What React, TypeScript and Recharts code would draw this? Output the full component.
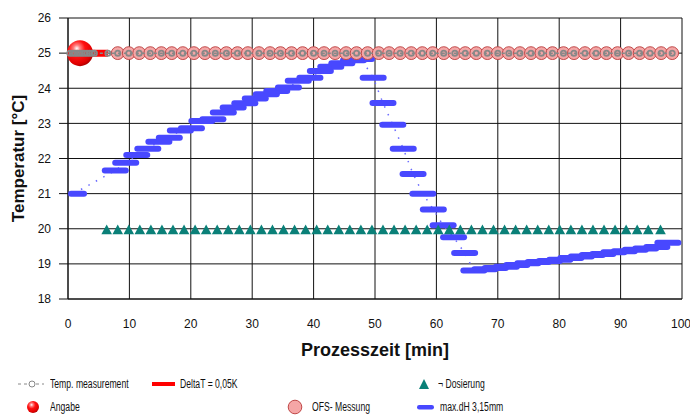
import React from "react";
import { CartesianGrid, Scatter, ScatterChart, XAxis, YAxis } from "recharts";

const xTicks = [0, 10, 20, 30, 40, 50, 60, 70, 80, 90, 100];
const yTicks = [18, 19, 20, 21, 22, 23, 24, 25, 26];

// max.dH 3,15mm – time [min] / temperature [°C]
const dhTime = [
  0.9, 7.7, 9.4, 11.2, 13.0, 14.8, 16.5, 18.3, 20.1, 21.8, 23.6, 25.3, 26.9, 28.8, 30.5, 32.3, 34.0, 35.9,
  37.5, 39.4, 41.1, 42.8, 44.6, 46.5, 47.8, 49.7, 51.3, 52.9, 54.6, 56.2, 57.8, 59.5, 61.1, 62.8, 64.6,
  66.1, 67.9, 69.6, 71.4, 73.1, 74.9, 76.6, 78.4, 80.1, 81.9, 83.6, 85.4, 87.1, 88.9, 90.6, 92.4, 94.1,
  95.9, 97.7
];
const dhTemp = [
  21.0, 21.66, 21.88, 22.1, 22.28, 22.48, 22.59, 22.8, 22.86, 23.07, 23.12, 23.31, 23.45, 23.57, 23.71,
  23.83, 23.92, 24.02, 24.21, 24.3, 24.49, 24.61, 24.71, 24.8, 24.83, 24.3, 23.58, 22.96, 22.28, 21.56,
  21.0, 20.55, 20.1, 19.76, 19.31, 18.81, 18.85, 18.88, 18.92, 18.97, 19.02, 19.05, 19.08, 19.12, 19.17,
  19.21, 19.25, 19.28, 19.33, 19.36, 19.4, 19.44, 19.48, 19.6
];

// ¬ Dosierung
const dosTime = [
  6.3, 8.1, 9.9, 11.7, 13.5, 15.3, 17.1, 18.9, 20.7, 22.5, 24.3, 26.1, 27.9, 29.7, 31.5, 33.3, 35.1,
  36.9, 38.7, 40.5, 42.3, 44.1, 45.9, 47.7, 49.5, 51.3, 53.1, 54.9, 56.7, 58.5, 60.3, 62.1, 63.9, 65.7,
  67.5, 69.3, 71.1, 72.9, 74.7, 76.5, 78.3, 80.1, 81.9, 83.7, 85.5, 87.3, 89.1, 90.9, 92.7, 94.5, 96.5
];
const dosLevel = 20;

// OFS- Messung
const ofsTime = [
  8.1, 9.9, 11.6, 13.4, 15.2, 16.9, 18.7, 20.5, 22.3, 24.0, 25.8, 27.6, 29.3, 31.1, 32.9, 34.6, 36.4,
  38.2, 40.0, 41.7, 43.5, 45.3, 47.0, 48.8, 50.6, 52.3, 54.1, 55.9, 57.7, 59.4, 61.2, 63.0, 64.7, 66.5,
  68.3, 70.0, 71.8, 73.6, 75.4, 77.1, 78.9, 80.7, 82.4, 84.2, 86.0, 87.7, 89.5, 91.3, 93.1, 94.8, 96.6,
  98.4
];
const ofsLevel = 25;

// Temp. measurement
const tempTime = [
  0.3, 0.7, 1.1, 1.5, 1.9, 2.3, 2.7, 3.1, 3.5, 3.9, 4.3, 6.5, 8.1, 9.9, 11.6, 13.4, 15.2, 16.9, 18.7,
  20.5, 22.3, 24.0, 25.8, 27.6, 29.3, 31.1, 32.9, 34.6, 36.4, 38.2, 40.0, 41.7, 43.5, 45.3, 47.0, 48.8,
  50.6, 52.3, 54.1, 55.9, 57.7, 59.4, 61.2, 63.0, 64.7, 66.5, 68.3, 70.0, 71.8, 73.6, 75.4, 77.1, 78.9,
  80.7, 82.4, 84.2, 86.0, 87.7, 89.5, 91.3, 93.1, 94.8, 96.6, 98.4
];
const tempLevel = 25;

// DeltaT = 0,05K and Angabe
const deltaTime = [0, 6.5];
const deltaLevel = 25;
const angabeTime = [1.95];
const angabeLevel = 25;

const dhData = dhTime.map((x, i) => ({ x, y: dhTemp[i] }));
const dosData = dosTime.map((x) => ({ x, y: dosLevel }));
const ofsData = ofsTime.map((x) => ({ x, y: ofsLevel }));
const tempData = tempTime.map((x) => ({ x, y: tempLevel }));
const deltaData = deltaTime.map((x) => ({ x, y: deltaLevel }));
const angabeData = angabeTime.map((x) => ({ x, y: angabeLevel }));

const PLOT_LEFT = 68;
const BLUE = "#4848ff";
const TEAL = "#0a8078";
const PINK = "#f5a6a6";
const PINK_EDGE = "#c04848";
const GRAY = "#888888";
const GRID = "#111111";
const font = "'Liberation Sans', Arial, sans-serif";

const BarMark = (p: any) => {
  const left = Math.max(p.cx - 13.5, PLOT_LEFT);
  const right = p.cx + 13.5;
  return <rect x={left} y={p.cy - 3} width={right - left} height={6} rx={3} fill={BLUE} />;
};

const TriMark = (p: any) => (
  <polygon
    points={`${p.cx - 5.3},${p.cy + 5.5} ${p.cx + 5.3},${p.cy + 5.5} ${p.cx},${p.cy - 4.2}`}
    fill={TEAL}
  />
);

const OfsMark = (p: any) => (
  <circle cx={p.cx} cy={p.cy} r={6.4} fill={PINK} stroke={PINK_EDGE} strokeWidth={1} />
);

const TempMark = (p: any) => (
  <circle cx={p.cx} cy={p.cy} r={2.6} fill="none" stroke={GRAY} strokeWidth={1.8} />
);

const NoMark = () => <g />;

const Sphere = ({ cx, cy, r, id }: { cx: number; cy: number; r: number; id: string }) => (
  <g>
    <defs>
      <radialGradient id={id} cx="0.38" cy="0.32" r="0.7">
        <stop offset="0%" stopColor="#ffffff" />
        <stop offset="18%" stopColor="#ff8080" />
        <stop offset="45%" stopColor="#ff1010" />
        <stop offset="85%" stopColor="#e00000" />
        <stop offset="100%" stopColor="#b00000" />
      </radialGradient>
    </defs>
    <circle cx={cx} cy={cy} r={r} fill={`url(#${id})`} />
  </g>
);

const AngabeMark = (p: any) => <Sphere cx={p.cx} cy={p.cy} r={13} id="angabeSphere" />;

const tickStyle = { fill: "#111", fontSize: 12, fontFamily: font };

function LegendItem({ x, y, icon, text }: { x: number; y: number; icon: React.ReactNode; text: string }) {
  return (
    <div style={{ position: "absolute", left: x, top: y - 8, height: 16, display: "flex", alignItems: "center" }}>
      {icon}
      <span
        style={{
          fontFamily: font,
          fontSize: 12.5,
          color: "#111",
          whiteSpace: "nowrap",
          display: "inline-block",
          transform: "scaleX(0.69)",
          transformOrigin: "left center"
        }}
      >
        {text}
      </span>
    </div>
  );
}

export default function App() {
  return (
    <div style={{ position: "relative", width: 690, height: 415, background: "#fff" }}>
      <style>{"body{margin:0}"}</style>
      <ScatterChart width={690} height={415} margin={{ top: 18, right: 8, bottom: 56, left: 0 }}>
        <CartesianGrid stroke={GRID} strokeWidth={1} />
        <XAxis
          type="number"
          dataKey="x"
          domain={[0, 100]}
          ticks={xTicks}
          tickLine={false}
          tickMargin={14}
          height={60}
          axisLine={{ stroke: GRID }}
          tick={tickStyle}
          label={({ viewBox }: any) => (
            <text
              x={viewBox.x + viewBox.width / 2}
              y={viewBox.y + 57}
              textAnchor="middle"
              fontFamily={font}
              fontSize={18}
              fontWeight="bold"
              fill="#111"
            >
              Prozesszeit [min]
            </text>
          )}
        />
        <YAxis
          type="number"
          dataKey="y"
          domain={[18, 26]}
          ticks={yTicks}
          width={68}
          tickSize={9}
          tickMargin={8}
          axisLine={{ stroke: GRID }}
          tickLine={{ stroke: GRID }}
          tick={tickStyle}
          label={({ viewBox }: any) => (
            <text
              x={24}
              y={viewBox.y + viewBox.height / 2}
              transform={`rotate(-90 24 ${viewBox.y + viewBox.height / 2})`}
              textAnchor="middle"
              fontFamily={font}
              fontSize={17}
              fontWeight="bold"
              fill="#111"
            >
              Temperatur [°C]
            </text>
          )}
        />
        <Scatter
          name="max.dH 3,15mm"
          data={dhData}
          line={{ stroke: "#6b6bff", strokeWidth: 1.5, strokeDasharray: "1.5 7" }}
          shape={BarMark}
          isAnimationActive={false}
        />
        <Scatter name="¬ Dosierung" data={dosData} shape={TriMark} isAnimationActive={false} />
        <Scatter
          name="DeltaT = 0,05K"
          data={deltaData}
          line={{ stroke: "#ff0000", strokeWidth: 7 }}
          shape={NoMark}
          isAnimationActive={false}
        />
        <Scatter name="Angabe" data={angabeData} shape={AngabeMark} isAnimationActive={false} />
        <Scatter name="OFS- Messung" data={ofsData} shape={OfsMark} isAnimationActive={false} />
        <Scatter
          name="Temp. measurement"
          data={tempData}
          line={{ stroke: GRAY, strokeWidth: 1.5, strokeDasharray: "3 3" }}
          shape={TempMark}
          isAnimationActive={false}
        />
      </ScatterChart>

      <LegendItem
        x={18}
        y={384}
        text="Temp. measurement"
        icon={
          <svg width={32} height={10}>
            <line x1={0} y1={5} x2={26} y2={5} stroke={GRAY} strokeWidth={1} strokeDasharray="3 3" />
            <circle cx={14} cy={5} r={3} fill="#fff" stroke={GRAY} strokeWidth={1} />
          </svg>
        }
      />
      <LegendItem
        x={151}
        y={384}
        text="DeltaT = 0,05K"
        icon={
          <svg width={29} height={10}>
            <line x1={1} y1={5} x2={24} y2={5} stroke="#ff0000" strokeWidth={4} />
          </svg>
        }
      />
      <LegendItem
        x={418}
        y={384}
        text="¬ Dosierung"
        icon={
          <svg width={20} height={12}>
            <polygon points="1,11 11,11 6,1" fill={TEAL} />
          </svg>
        }
      />
      <LegendItem
        x={26}
        y={407}
        text="Angabe"
        icon={
          <svg width={24} height={14}>
            <Sphere cx={7} cy={7} r={6} id="legendSphere" />
          </svg>
        }
      />
      <LegendItem
        x={287}
        y={407}
        text="OFS- Messung"
        icon={
          <svg width={25} height={16}>
            <circle cx={8} cy={8} r={6.8} fill={PINK} stroke={PINK_EDGE} strokeWidth={1} />
          </svg>
        }
      />
      <LegendItem
        x={416}
        y={407}
        text="max.dH 3,15mm"
        icon={
          <svg width={24} height={10}>
            <rect x={1} y={3} width={17} height={4.5} rx={2.2} fill={BLUE} />
          </svg>
        }
      />
    </div>
  );
}
